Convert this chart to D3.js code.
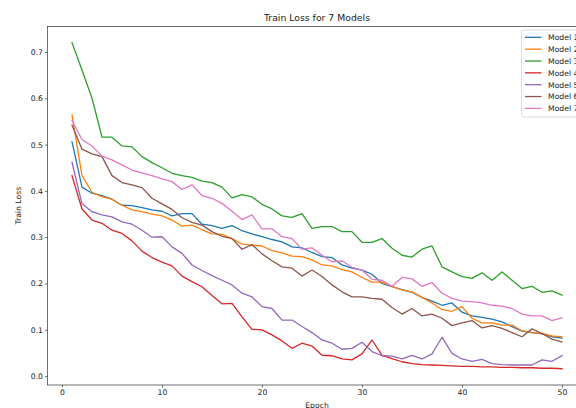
<!DOCTYPE html>
<html lang="en">
<head>
<meta charset="utf-8">
<script src="https://cdn.jsdelivr.net/npm/d3@7"></script>
<style>
  body { margin: 0; background: #fff; }
  svg { font-family: "DejaVu Sans", sans-serif; }
</style>
</head>
<body>
<svg id="chart" width="576" height="408"></svg>
<script>
// epochs 1..50
var epochs = d3.range(1, 51);

var modelNames = ["Model 1", "Model 2", "Model 3", "Model 4", "Model 5", "Model 6", "Model 7"];
var modelColors = ["#1f77b4", "#ff7f0e", "#2ca02c", "#d62728", "#9467bd", "#8c564b", "#e377c2"];

var model1 = [0.506, 0.408, 0.395, 0.390, 0.382, 0.369, 0.368, 0.364, 0.359, 0.356,
              0.346, 0.351, 0.351, 0.328, 0.325, 0.319, 0.325, 0.314, 0.307, 0.301,
              0.295, 0.290, 0.279, 0.277, 0.267, 0.258, 0.256, 0.240, 0.233, 0.229,
              0.220, 0.200, 0.193, 0.187, 0.181, 0.170, 0.162, 0.153, 0.158, 0.138,
              0.130, 0.127, 0.123, 0.117, 0.107, 0.097, 0.094, 0.091, 0.085, 0.082];
var model2 = [0.564, 0.433, 0.397, 0.387, 0.382, 0.369, 0.359, 0.355, 0.350, 0.346,
              0.337, 0.324, 0.326, 0.316, 0.307, 0.306, 0.297, 0.285, 0.283, 0.281,
              0.271, 0.266, 0.259, 0.258, 0.251, 0.240, 0.238, 0.230, 0.225, 0.213,
              0.203, 0.203, 0.194, 0.186, 0.182, 0.170, 0.158, 0.144, 0.140, 0.150,
              0.125, 0.115, 0.115, 0.110, 0.110, 0.098, 0.094, 0.092, 0.087, 0.085];
var model3 = [0.720, 0.661, 0.600, 0.516, 0.516, 0.497, 0.495, 0.474, 0.461, 0.450,
              0.438, 0.433, 0.429, 0.421, 0.418, 0.408, 0.385, 0.392, 0.387, 0.371,
              0.361, 0.346, 0.343, 0.351, 0.319, 0.323, 0.323, 0.312, 0.312, 0.289,
              0.289, 0.297, 0.276, 0.261, 0.257, 0.274, 0.281, 0.236, 0.225, 0.215,
              0.211, 0.223, 0.207, 0.225, 0.207, 0.189, 0.194, 0.181, 0.184, 0.175];
var model4 = [0.433, 0.361, 0.337, 0.330, 0.315, 0.308, 0.292, 0.270, 0.256, 0.246,
              0.238, 0.216, 0.204, 0.193, 0.174, 0.156, 0.157, 0.128, 0.101, 0.100,
              0.089, 0.076, 0.060, 0.071, 0.065, 0.045, 0.044, 0.037, 0.035, 0.048,
              0.078, 0.045, 0.038, 0.031, 0.027, 0.025, 0.024, 0.023, 0.022, 0.021,
              0.021, 0.020, 0.020, 0.019, 0.019, 0.018, 0.018, 0.017, 0.017, 0.016];
var model5 = [0.462, 0.372, 0.355, 0.348, 0.344, 0.333, 0.328, 0.315, 0.300, 0.301,
              0.279, 0.265, 0.240, 0.228, 0.217, 0.207, 0.197, 0.179, 0.171, 0.150,
              0.146, 0.121, 0.121, 0.107, 0.094, 0.078, 0.071, 0.058, 0.060, 0.073,
              0.053, 0.044, 0.043, 0.037, 0.045, 0.037, 0.048, 0.084, 0.049, 0.037,
              0.032, 0.036, 0.027, 0.025, 0.024, 0.024, 0.024, 0.035, 0.032, 0.044];
var model6 = [0.542, 0.490, 0.480, 0.474, 0.433, 0.418, 0.413, 0.407, 0.384, 0.372,
              0.360, 0.342, 0.332, 0.326, 0.312, 0.302, 0.297, 0.274, 0.284, 0.264,
              0.249, 0.236, 0.233, 0.216, 0.229, 0.215, 0.197, 0.182, 0.171, 0.171,
              0.168, 0.166, 0.148, 0.134, 0.146, 0.130, 0.134, 0.125, 0.109, 0.115,
              0.120, 0.104, 0.109, 0.103, 0.094, 0.085, 0.102, 0.092, 0.080, 0.074];
var model7 = [0.552, 0.511, 0.497, 0.475, 0.467, 0.456, 0.445, 0.439, 0.433, 0.426,
              0.420, 0.403, 0.413, 0.390, 0.384, 0.373, 0.356, 0.338, 0.348, 0.318,
              0.318, 0.301, 0.297, 0.274, 0.277, 0.261, 0.247, 0.249, 0.235, 0.229,
              0.209, 0.207, 0.194, 0.213, 0.210, 0.194, 0.202, 0.179, 0.168, 0.162,
              0.161, 0.158, 0.153, 0.151, 0.146, 0.134, 0.130, 0.130, 0.120, 0.126];

var series = [model1, model2, model3, model4, model5, model6, model7];

var yTicks = [0.0, 0.1, 0.2, 0.3, 0.4, 0.5, 0.6, 0.7];
var xTicks = [0, 10, 20, 30, 40, 50];

// plot box (right side runs past the window, like the reference crop)
var plotL = 47.5, plotR = 586.5, plotT = 26.4, plotB = 385;

var svg = d3.select("#chart");

var allVals = d3.merge(series);
var yMin = d3.min(allVals), yMax = d3.max(allVals);
var yPad = (yMax - yMin) * 0.05;
var xPad = (50 - 1) * 0.05;

var x = d3.scaleLinear().domain([1 - xPad, 50 + xPad]).range([plotL, plotR]);
var y = d3.scaleLinear().domain([yMin - yPad, yMax + yPad]).range([plotB, plotT]);

/*
  lines
*/
var line = d3.line()
    .x(function(d, i){ return x(epochs[i]); })
    .y(function(d){ return y(d); });

svg.append("g")
    .selectAll("path")
    .data(series)
    .enter()
    .append("path")
    .attr("d", line)
    .style("fill", "none")
    .style("stroke", function(d, i){ return modelColors[i]; })
    .style("stroke-width", 1.3)
    .style("stroke-linejoin", "round")
    .style("stroke-linecap", "square");

/*
  axes
*/
var xAxis = svg.append("g")
    .attr("transform", "translate(0," + plotB + ")")
    .call(d3.axisBottom(x).tickValues(xTicks).tickSize(2.5).tickPadding(2).tickFormat(d3.format("d")));

var yAxis = svg.append("g")
    .attr("transform", "translate(" + plotL + ",0)")
    .call(d3.axisLeft(y).tickValues(yTicks).tickSize(2.5).tickPadding(2).tickFormat(d3.format(".1f")));

[xAxis, yAxis].forEach(function(a){
    a.select(".domain").remove();
    a.selectAll("line").style("stroke", "#333").style("stroke-width", 0.7);
    a.selectAll("text").style("font-size", "7.7px").style("fill", "#222")
        .style("font-family", "DejaVu Sans, sans-serif");
});

// spines
svg.append("rect")
    .attr("x", plotL)
    .attr("y", plotT)
    .attr("width", plotR - plotL)
    .attr("height", plotB - plotT)
    .style("fill", "none")
    .style("stroke", "#333")
    .style("stroke-width", 0.7);

/*
  labels
*/
svg.append("text")
    .attr("x", (plotL + plotR) / 2)
    .attr("y", 20.5)
    .attr("text-anchor", "middle")
    .style("font-size", "9.3px")
    .style("fill", "#222")
    .text("Train Loss for 7 Models");

svg.append("text")
    .attr("x", (plotL + plotR) / 2)
    .attr("y", 407.5)
    .attr("text-anchor", "middle")
    .style("font-size", "7.7px")
    .style("fill", "#222")
    .text("Epoch");

svg.append("text")
    .attr("transform", "translate(21," + ((plotT + plotB) / 2) + ") rotate(-90)")
    .attr("text-anchor", "middle")
    .style("font-size", "7.7px")
    .style("fill", "#222")
    .text("Train Loss");

/*
  legend
*/
var legend = svg.append("g").attr("transform", "translate(521.5,30)");

legend.append("rect")
    .attr("width", 82)
    .attr("height", 87)
    .attr("rx", 2)
    .style("fill", "#fff")
    .style("fill-opacity", 0.8)
    .style("stroke", "#d0d0d0")
    .style("stroke-width", 0.7);

var rows = legend.selectAll(".row")
    .data(modelNames)
    .enter()
    .append("g")
    .attr("class", "row")
    .attr("transform", function(d, i){ return "translate(0," + (7.3 + i * 11.85) + ")"; });

rows.append("line")
    .attr("x1", 3.5)
    .attr("x2", 20)
    .style("stroke", function(d, i){ return modelColors[i]; })
    .style("stroke-width", 1.3);

rows.append("text")
    .attr("x", 26.5)
    .attr("y", 2.8)
    .style("font-size", "7.7px")
    .style("fill", "#222")
    .text(function(d){ return d; });
</script>
</body>
</html>
